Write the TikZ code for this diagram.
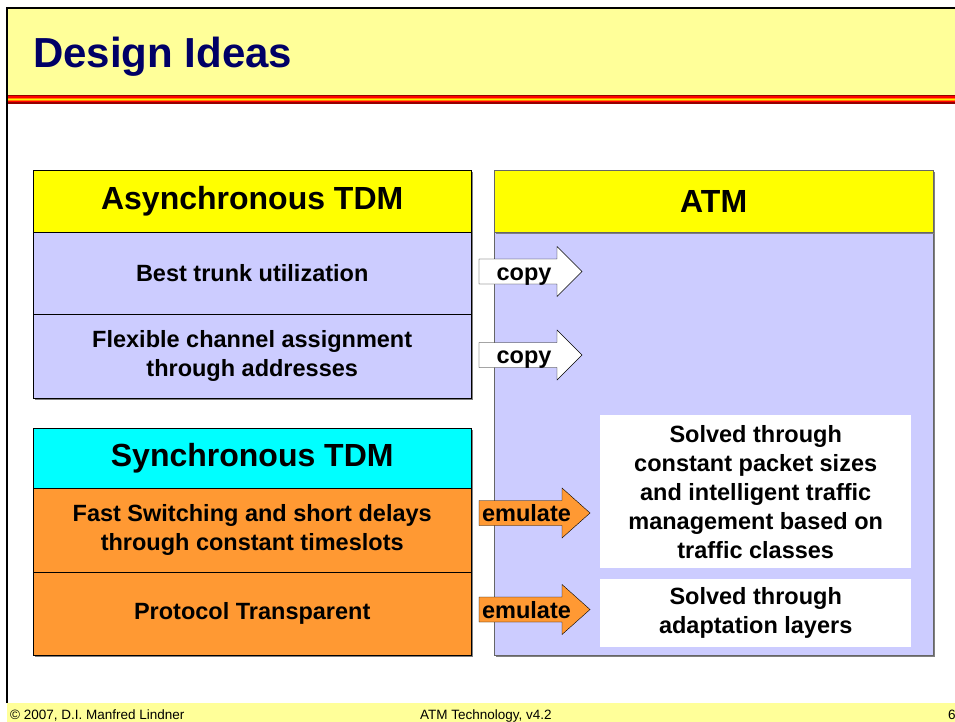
\documentclass[tikz,border=0pt]{standalone}
\usepackage{fontspec}
\setmainfont{Liberation Sans}
\usetikzlibrary{shadows}
\definecolor{titlebg}{RGB}{255,255,153}
\definecolor{titlefg}{RGB}{0,0,102}
\definecolor{hdryellow}{RGB}{255,255,0}
\definecolor{lavender}{RGB}{204,204,255}
\definecolor{cyanhdr}{RGB}{0,255,255}
\definecolor{orangerow}{RGB}{255,153,51}
\definecolor{darkred}{RGB}{150,0,0}
\begin{document}
\begin{tikzpicture}[x=1pt,y=-1pt,
  box/.style={draw,thin,anchor=north west,inner sep=0pt,align=center,
    font=\fontsize{23.5}{29}\selectfont\bfseries,
    drop shadow={shadow xshift=1.5pt,shadow yshift=-1.5pt,fill=gray,opacity=1}},
  hdr/.style={box,font=\fontsize{32}{38}\selectfont\bfseries},
  solved/.style={anchor=north west,fill=white,inner sep=0pt,align=center,
    font=\fontsize{23.5}{29}\selectfont\bfseries},
  arrtxt/.style={anchor=base,inner sep=0pt,font=\fontsize{23.5}{28}\selectfont\bfseries},
  foot/.style={anchor=base west,inner sep=0pt,font=\fontsize{13.5}{16}\selectfont}]
\useasboundingbox (0,0) rectangle (955,722);
% slide frame
\fill[titlebg] (7,8) rectangle (955,95);
\foreach \ya/\yb/\col in {95/104/darkred, 96.5/102.5/red, 97.8/101.2/orange, 98.8/100.2/yellow}
  \fill[\col] (7,\ya) rectangle (955,\yb);
\fill[titlebg] (7,703) rectangle (955,722);
\draw[line width=1.5pt] (7,703) -- (7,8) -- (955,8);
\node[anchor=base west,inner sep=0pt,text=titlefg,font=\fontsize{42}{48}\selectfont\bfseries] (title) at (33,68) {Design Ideas};
% left column
\node[hdr,fill=hdryellow,minimum width=438pt,minimum height=62pt] (async) at (33,170) {Asynchronous TDM};
\node[box,fill=lavender,minimum width=438pt,minimum height=82pt] (trunk) at (33,232) {Best trunk utilization};
\node[box,fill=lavender,minimum width=438pt,minimum height=84pt] (flex) at (33,314) {Flexible channel assignment\\through addresses};
\node[hdr,fill=cyanhdr,minimum width=438pt,minimum height=60pt] (sync) at (33,428) {Synchronous TDM};
\node[box,fill=orangerow,minimum width=438pt,minimum height=84pt] (fast) at (33,488) {Fast Switching and short delays\\through constant timeslots};
\node[box,fill=orangerow,minimum width=438pt,minimum height=83pt] (proto) at (33,572) {Protocol Transparent};
% right column
\node[box,draw=gray!80!black,fill=lavender,minimum width=439pt,minimum height=485pt] (atmbody) at (494,170) {};
\node[hdr,draw=gray!80!black,fill=hdryellow,drop shadow={opacity=0},minimum width=439pt,minimum height=62pt] (atm) at (494,170) {ATM};
\node[solved,minimum width=311pt,minimum height=153pt] (solved1) at (600,415) {Solved through\\constant packet sizes\\and intelligent traffic\\management based on\\traffic classes};
\node[solved,minimum width=311pt,minimum height=68pt] (solved2) at (600,579) {Solved through\\adaptation layers};
% block arrows
\foreach \cy/\hb/\tip/\word/\col [count=\i] in {271.5/557/582/copy/white, 355/557/582/copy/white,
    513/562/590/emulate/orangerow, 609.5/562/590/emulate/orangerow}
{
  \draw[thin,fill=\col] (479,\cy-12.5) -- (\hb,\cy-12.5) -- (\hb,\cy-25) -- (\tip,\cy)
    -- (\hb,\cy+25) -- (\hb,\cy+12.5) -- (479,\cy+12.5) -- cycle;
  \node[arrtxt] (arr\i) at ({(479+\hb)/2+6},\cy+8.5) {\word};
}
% footer
\node[foot] (copyr) at (10,719) {\textcopyright\ 2007, D.I. Manfred Lindner};
\node[foot] (course) at (420,719) {ATM Technology, v4.2};
\node[foot] (page) at (948,719) {6};
\end{tikzpicture}
\end{document}
